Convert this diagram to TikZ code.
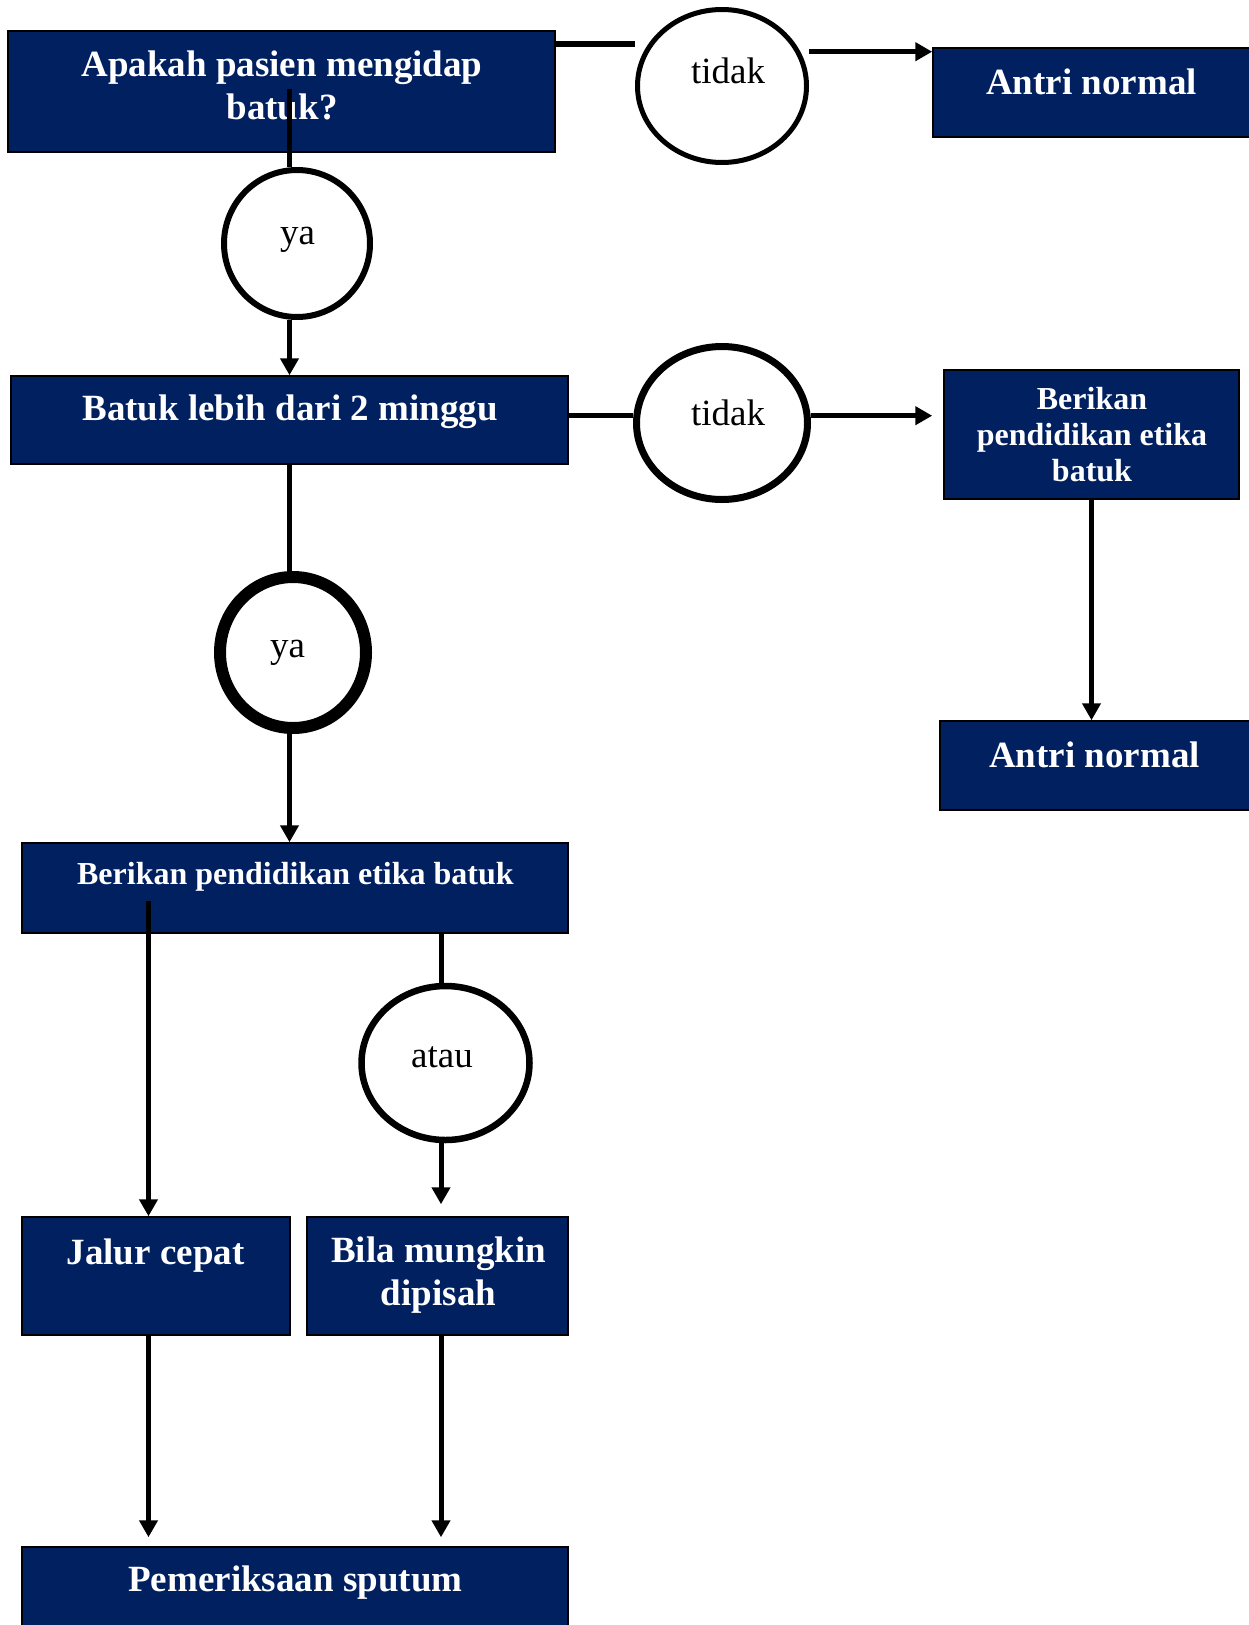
\documentclass[tikz,border=0pt]{standalone}
\usepackage{fontspec}
\setmainfont{Liberation Serif}
\usetikzlibrary{arrows.meta,shapes.geometric}
\definecolor{navy}{HTML}{002060}
\pgfdeclarelayer{back}
\pgfdeclarelayer{mid}
\pgfsetlayers{back,mid,main}
\begin{document}
\begin{tikzpicture}[x=1pt,y=-1pt,
  box/.style={rectangle, draw=black, line width=1.5pt, fill=navy, inner sep=0pt},
  btxt/.style={anchor=base, inner sep=0pt, text=white, font=\fontsize{37}{43}\selectfont\bfseries},
  stxt/.style={anchor=base, inner sep=0pt, text=white, font=\fontsize{32}{36.3}\selectfont\bfseries},
  oval/.style={ellipse, draw=black, fill=white, inner sep=0pt},
  otxt/.style={anchor=base, inner sep=0pt, text=black, font=\fontsize{37}{43}\selectfont},
  conn/.style={line width=5pt},
  arr/.style={line width=5pt, -{Triangle[length=17pt,width=18pt]}},
]
\useasboundingbox (0,0) rectangle (1248,1625);

\begin{pgfonlayer}{back}
% boxes
\node[box, minimum width=547pt, minimum height=121pt] (b1) at (281.5,91.5) {};
\node[box, minimum width=322pt, minimum height=89pt] (an1) at (1094,92.5) {};
\node[box, minimum width=557pt, minimum height=88pt] (b2) at (289.5,420) {};
\node[box, minimum width=295pt, minimum height=129pt] (rb) at (1091.5,434.5) {};
\node[box, minimum width=315pt, minimum height=89pt] (an2) at (1097.5,765.5) {};
\node[box, minimum width=546pt, minimum height=90pt] (b3) at (295,888) {};
\node[box, minimum width=268pt, minimum height=118pt] (ja) at (156,1276) {};
\node[box, minimum width=261pt, minimum height=118pt] (bi) at (437.5,1276) {};
\node[box, minimum width=546pt, minimum height=88pt] (sp) at (295,1591) {};

% box texts
\node[btxt] (t1) at (282,76) {\begin{tabular}[t]{@{}c@{}}Apakah pasien mengidap\\batuk?\end{tabular}};
\node[btxt] (t2) at (1091.5,94.5) {Antri normal};
\node[btxt] (t3) at (290,420.5) {Batuk lebih dari 2 minggu};
\node[stxt] (t4) at (1092,409) {\begin{tabular}[t]{@{}c@{}}Berikan\\pendidikan etika\\batuk\end{tabular}};
\node[btxt] (t5) at (1094.5,767) {Antri normal};
\node[stxt] (t6) at (295.4,884) {Berikan pendidikan etika batuk};
\node[btxt] (t7) at (155.5,1264) {Jalur cepat};
\node[btxt] (t8) at (438.5,1262.5) {\begin{tabular}[t]{@{}c@{}}Bila mungkin\\dipisah\end{tabular}};
\node[btxt] (t9) at (295.4,1591.6) {Pemeriksaan sputum};
\end{pgfonlayer}

% helper coordinates
\coordinate (c1) at (0,43.5);
\coordinate (c2) at (0,51.7);
\coordinate (c3) at (289.5,89);
\coordinate (c5) at (0,415.7);
\coordinate (c10) at (148.5,901);
\coordinate (c11) at (441,0);

% decision ovals (main layer, above connectors)
\node[oval, line width=5pt, minimum width=169pt, minimum height=153pt] (e1) at (722,86) {};
\node[oval, line width=6pt, minimum width=146pt, minimum height=147pt] (y1) at (297,243.5) {};
\node[oval, line width=7pt, minimum width=171pt, minimum height=153pt] (e2) at (722,423) {};
\node[oval, line width=12pt, minimum width=146pt, minimum height=151pt] (y2) at (293,652.5) {};
\node[oval, line width=6.5pt, minimum width=168pt, minimum height=154pt] (e3) at (445.5,1063) {};

\node[otxt] (o1) at (728,83) {tidak};
\node[otxt] (o2) at (297.5,244) {ya};
\node[otxt] (o3) at (728,425) {tidak};
\node[otxt] (o4) at (287.5,657) {ya};
\node[otxt] (o5) at (442,1067) {atau};

% connectors (between boxes and ovals)
\begin{pgfonlayer}{mid}
\draw[line width=6pt] (b1.east |- c1) -- (e1.west |- c1);
\draw[arr] (e1.east |- c2) -- (an1.west |- c2);
\draw[conn] (c3) -- (c3 |- y1.north);
\draw[arr] (c3 |- y1.south) -- (c3 |- b2.north);
\draw[conn] (b2.east |- c5) -- (e2.west |- c5);
\draw[arr, shorten >=11pt] (e2.east |- c5) -- (rb.west |- c5);
\draw[conn] (c3 |- b2.south) -- (c3 |- y2.north);
\draw[arr] (c3 |- y2.south) -- (c3 |- b3.north);
\draw[arr] (rb.south) -- (rb.south |- an2.north);
\draw[arr] (c10) -- (c10 |- ja.north);
\draw[conn] (c11 |- b3.south) -- (c11 |- e3.north);
\draw[arr, shorten >=12pt] (c11 |- e3.south) -- (c11 |- bi.north);
\draw[arr, shorten >=9pt] (c10 |- ja.south) -- (c10 |- sp.north);
\draw[arr, shorten >=9pt] (c11 |- bi.south) -- (c11 |- sp.north);
\end{pgfonlayer}
\end{tikzpicture}
\end{document}
